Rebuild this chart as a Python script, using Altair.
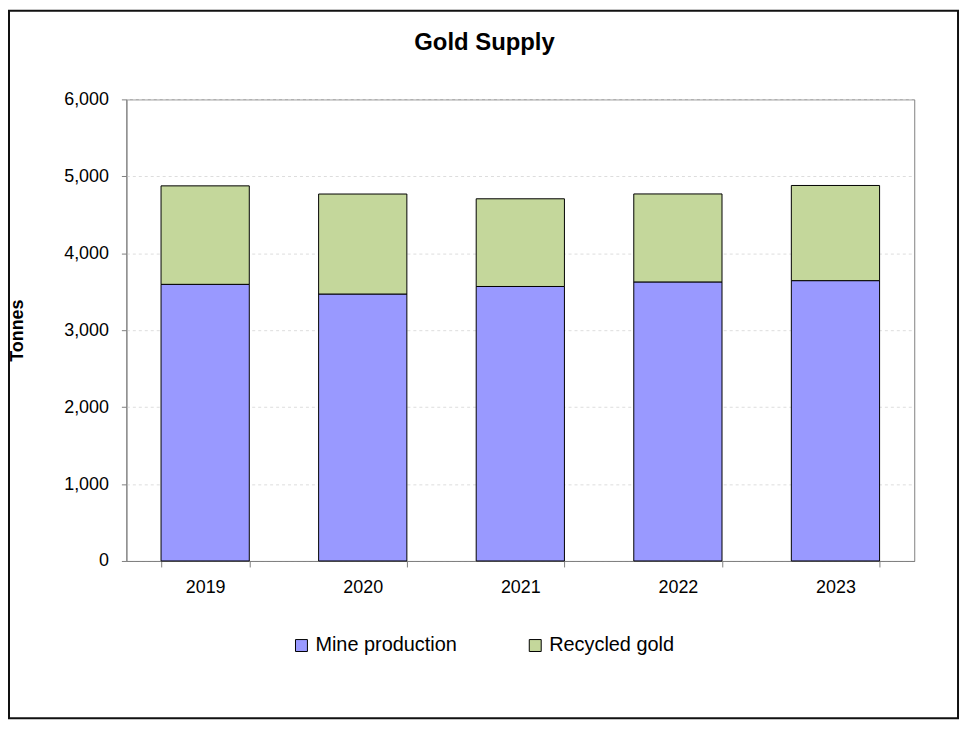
import altair as alt
import pandas as pd

years = ["2019", "2020", "2021", "2022", "2023"]
series = ["Mine production", "Recycled gold"]
mine = [3596, 3470, 3568, 3627, 3644]
recycled = [1280, 1300, 1140, 1144, 1237]
colors = ["#9999FF", "#C4D79B"]

rows = []
for i, y in enumerate(years):
    rows.append({"year": y, "series": series[0], "value": mine[i], "ord": 0})
    rows.append({"year": y, "series": series[1], "value": recycled[i], "ord": 1})
df = pd.DataFrame(rows)

FONT = "Liberation Sans"

bars = alt.Chart(df).mark_bar(stroke="black", strokeWidth=1).encode(
    x=alt.X("year:N", title=None, sort=years,
            scale=alt.Scale(paddingInner=0.44, paddingOuter=0.22),
            axis=alt.Axis(labelAngle=0, tickBand="extent", labelPadding=12,
                          tickSize=6, tickColor="#808080", domainColor="#808080",
                          labelFontSize=18, labelFont=FONT, labelColor="black")),
    y=alt.Y("value:Q", title="Tonnes", stack="zero",
            scale=alt.Scale(domain=[0, 6000], nice=False),
            axis=alt.Axis(values=[0, 1000, 2000, 3000, 4000, 5000, 6000], format=",.0f",
                          tickSize=5, labelPadding=13, tickColor="#808080",
                          domainColor="#808080", labelFontSize=18, labelFont=FONT,
                          labelColor="black", grid=True, gridColor="#dddddd",
                          gridDash=[3, 3], titleFont=FONT, titleFontSize=18,
                          titleFontWeight="bold", titleColor="black",
                          titleX=-109, titleY=232, titleAngle=-90,
                          titleAlign="center", titleBaseline="middle")),
    color=alt.Color("series:N", sort=series,
                    scale=alt.Scale(domain=series, range=colors),
                    legend=alt.Legend(title=None, orient="none", direction="horizontal",
                                      legendX=166, legendY=539, symbolType="square",
                                      symbolSize=144, symbolStrokeColor="black",
                                      symbolStrokeWidth=1, labelFont=FONT,
                                      labelFontSize=20, labelColor="black",
                                      columnPadding=68, labelOffset=4)),
    order=alt.Order("ord:Q"),
)

frame = alt.Chart(alt.Data(values=[{}])).mark_rect(
    fill="transparent", stroke="#111111", strokeWidth=2
).encode(
    x=alt.value(-118), x2=alt.value(836), y=alt.value(-89), y2=alt.value(622)
)

chart = alt.layer(bars, frame).properties(
    width=792, height=464,
    autosize=alt.AutoSizeParams(type="none"),
    padding={"left": 119, "top": 90, "right": 48, "bottom": 160},
    title=alt.Title("Gold Supply", font=FONT, fontSize=24, fontWeight="bold",
                    color="black", anchor="middle", frame="group", dx=-36, offset=-45),
).configure_view(stroke="#808080", strokeWidth=1)

chart.save("out.html", embed_options={"renderer": "svg", "actions": False})
